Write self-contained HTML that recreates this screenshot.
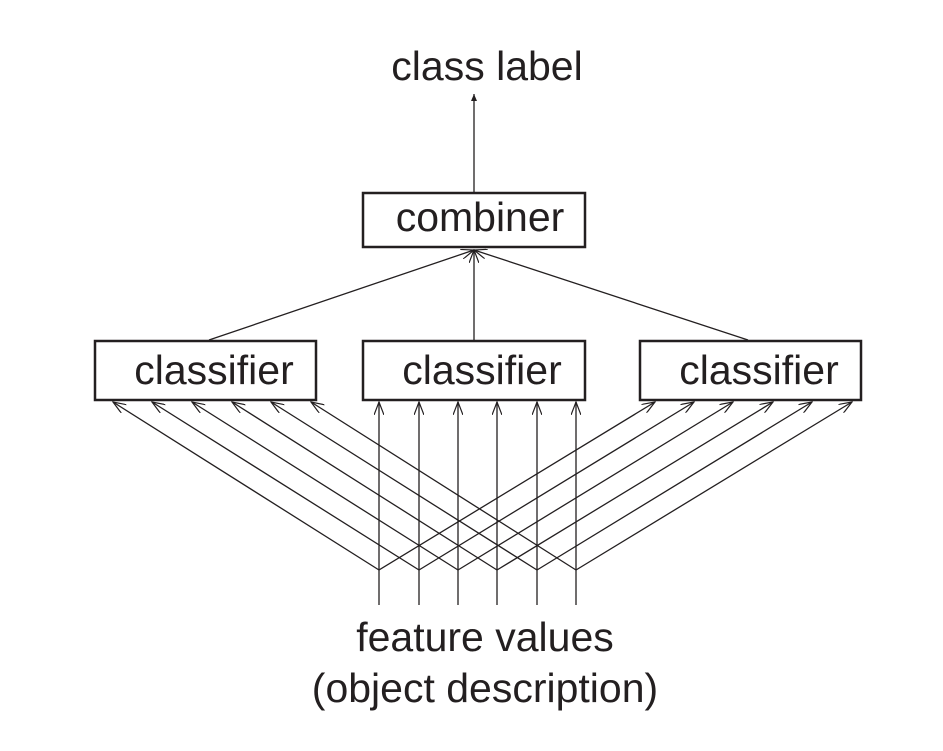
<!DOCTYPE html>
<html><head><style>
body{margin:0;background:#fff;}
svg{display:block;}
text{font-family:"Liberation Sans",sans-serif;fill:#231f20;font-size:41px;}
</style></head><body>
<svg width="943" height="751" viewBox="0 0 943 751">
<defs>
<marker id="a" markerWidth="14" markerHeight="10" refX="13" refY="5" orient="auto" markerUnits="userSpaceOnUse">
<path d="M0,0 L13,5 L0,10" fill="none" stroke="#231f20" stroke-width="1.2"/>
</marker>
<marker id="s" markerWidth="8" markerHeight="8" refX="7" refY="4" orient="auto" markerUnits="userSpaceOnUse">
<path d="M0,1 L7,4 L0,7 Z" fill="#231f20"/>
</marker>
</defs>
<g stroke="#231f20" fill="none">
<rect x="363" y="193" width="222" height="54" stroke-width="2.5"/>
<rect x="95" y="341" width="221" height="59" stroke-width="2.5"/>
<rect x="363" y="341" width="222" height="59" stroke-width="2.5"/>
<rect x="640" y="341" width="221" height="59" stroke-width="2.5"/>
<g stroke-width="1.3">
<line x1="474" y1="193" x2="474" y2="94" marker-end="url(#s)"/>
<line x1="209" y1="340" x2="474" y2="250" marker-end="url(#a)"/>
<line x1="474" y1="340" x2="474" y2="250" marker-end="url(#a)"/>
<line x1="748" y1="340" x2="474" y2="250" marker-end="url(#a)"/>
</g>
<g stroke-width="1.3">
<line x1="379" y1="605" x2="379" y2="570"/><line x1="419" y1="605" x2="419" y2="570"/>
<line x1="458" y1="605" x2="458" y2="570"/><line x1="497" y1="605" x2="497" y2="570"/>
<line x1="537" y1="605" x2="537" y2="570"/><line x1="576" y1="605" x2="576" y2="570"/>
<line x1="379" y1="570" x2="113" y2="402" marker-end="url(#a)"/>
<line x1="419" y1="570" x2="152" y2="402" marker-end="url(#a)"/>
<line x1="458" y1="570" x2="192" y2="402" marker-end="url(#a)"/>
<line x1="497" y1="570" x2="232" y2="402" marker-end="url(#a)"/>
<line x1="537" y1="570" x2="271" y2="402" marker-end="url(#a)"/>
<line x1="576" y1="570" x2="311" y2="402" marker-end="url(#a)"/>
<line x1="379" y1="570" x2="379" y2="402" marker-end="url(#a)"/>
<line x1="419" y1="570" x2="419" y2="402" marker-end="url(#a)"/>
<line x1="458" y1="570" x2="458" y2="402" marker-end="url(#a)"/>
<line x1="497" y1="570" x2="497" y2="402" marker-end="url(#a)"/>
<line x1="537" y1="570" x2="537" y2="402" marker-end="url(#a)"/>
<line x1="576" y1="570" x2="576" y2="402" marker-end="url(#a)"/>
<line x1="379" y1="570" x2="655" y2="402" marker-end="url(#a)"/>
<line x1="419" y1="570" x2="694" y2="402" marker-end="url(#a)"/>
<line x1="458" y1="570" x2="733" y2="402" marker-end="url(#a)"/>
<line x1="497" y1="570" x2="773" y2="402" marker-end="url(#a)"/>
<line x1="537" y1="570" x2="812" y2="402" marker-end="url(#a)"/>
<line x1="576" y1="570" x2="852" y2="402" marker-end="url(#a)"/>
</g>
</g>
<text x="487" y="80" text-anchor="middle">class label</text>
<text x="480" y="231" text-anchor="middle">combiner</text>
<text x="214" y="384" text-anchor="middle">classifier</text>
<text x="482" y="384" text-anchor="middle">classifier</text>
<text x="759" y="384" text-anchor="middle">classifier</text>
<text x="485" y="651" text-anchor="middle">feature values</text>
<text x="485" y="702" text-anchor="middle">(object description)</text>
</svg>
</body></html>
